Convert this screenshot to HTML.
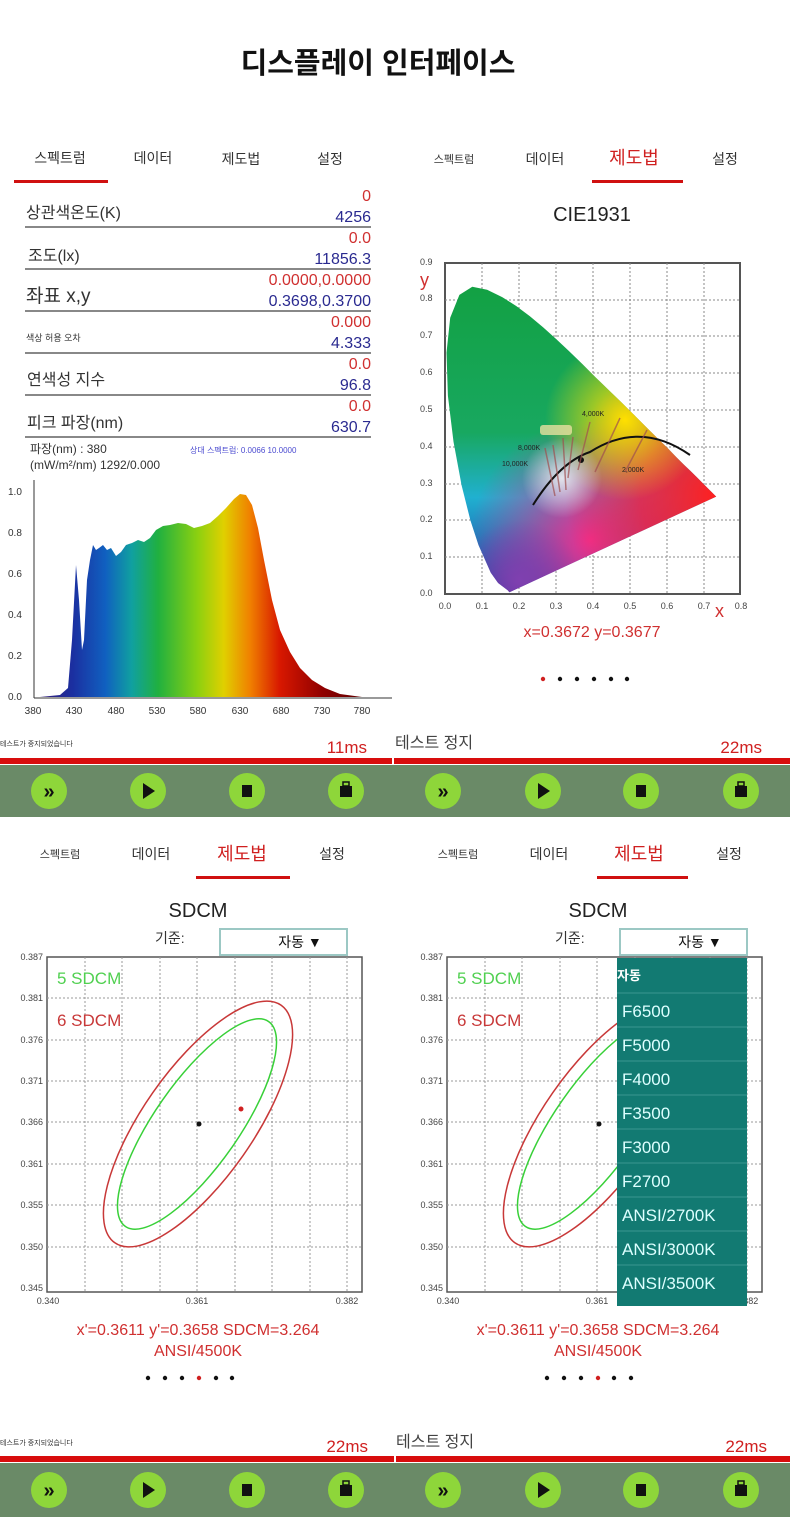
<!DOCTYPE html>
<html><head><meta charset="utf-8"><style>
html,body{margin:0;padding:0;background:#fff}
svg{display:block}
text{font-family:"Liberation Sans","Noto Sans CJK KR",sans-serif}
</style></head><body>
<svg width="790" height="1539" viewBox="0 0 790 1539" xmlns="http://www.w3.org/2000/svg">
<defs>
<linearGradient id="spec" x1="33" x2="362" y1="0" y2="0" gradientUnits="userSpaceOnUse">
<stop offset="0" stop-color="#3a1a70"/><stop offset="0.12" stop-color="#1b2fa0"/><stop offset="0.22" stop-color="#1060c0"/>
<stop offset="0.3" stop-color="#10a0a0"/><stop offset="0.38" stop-color="#20b040"/><stop offset="0.5" stop-color="#8cd010"/>
<stop offset="0.58" stop-color="#e0d000"/><stop offset="0.66" stop-color="#f08000"/><stop offset="0.75" stop-color="#d81800"/>
<stop offset="0.88" stop-color="#900000"/><stop offset="1" stop-color="#600000"/></linearGradient>
<linearGradient id="cv" x1="0" x2="0" y1="270" y2="595" gradientUnits="userSpaceOnUse">
<stop offset="0" stop-color="#12a040"/><stop offset="0.5" stop-color="#18a860"/><stop offset="0.7" stop-color="#20b0d0"/><stop offset="1" stop-color="#2030a0"/></linearGradient>
<radialGradient id="rr" cx="715" cy="495" r="150" gradientUnits="userSpaceOnUse"><stop offset="0" stop-color="#ff2020"/><stop offset="0.5" stop-color="#f02040" stop-opacity="0.8"/><stop offset="1" stop-color="#f02040" stop-opacity="0"/></radialGradient>
<radialGradient id="ry" cx="625" cy="420" r="80" gradientUnits="userSpaceOnUse"><stop offset="0" stop-color="#ffe000"/><stop offset="1" stop-color="#ffe000" stop-opacity="0"/></radialGradient>
<radialGradient id="rm" cx="590" cy="540" r="120" gradientUnits="userSpaceOnUse"><stop offset="0" stop-color="#f03090"/><stop offset="1" stop-color="#e03090" stop-opacity="0"/></radialGradient>
<radialGradient id="rw" cx="562" cy="478" r="40" gradientUnits="userSpaceOnUse"><stop offset="0" stop-color="#ffffff" stop-opacity="0.8"/><stop offset="1" stop-color="#ffffff" stop-opacity="0"/></radialGradient>
<radialGradient id="rv" cx="520" cy="580" r="60" gradientUnits="userSpaceOnUse"><stop offset="0" stop-color="#8040b0"/><stop offset="1" stop-color="#8040b0" stop-opacity="0"/></radialGradient>
</defs>

<text x="378" y="73" font-size="29" text-anchor="middle" fill="#111" font-weight="bold">디스플레이 인터페이스</text>

<g font-size="14" fill="#333" text-anchor="middle">
<text x="60" y="163">스펙트럼</text><text x="153" y="163">데이터</text><text x="241" y="164">제도법</text><text x="330" y="164">설정</text>
<text x="454" y="163" font-size="11">스펙트럼</text><text x="545" y="164">데이터</text><text x="634" y="164" font-size="18" fill="#d02020">제도법</text><text x="725" y="164">설정</text>
</g>
<rect x="14" y="180" width="94" height="3" fill="#d01010"/>
<rect x="592" y="180" width="91" height="3" fill="#d01010"/>

<g fill="#888">
<rect x="25" y="226" width="346" height="2"/><rect x="25" y="268" width="346" height="2"/><rect x="25" y="310" width="346" height="2"/>
<rect x="25" y="352" width="346" height="2"/><rect x="25" y="394" width="346" height="2"/><rect x="25" y="436" width="346" height="2"/>
</g>
<g font-size="16" fill="#333">
<text x="26" y="218">상관색온도(K)</text><text x="28" y="261">조도(lx)</text><text x="26" y="302" font-size="19">좌표 x,y</text>
<text x="26" y="341" font-size="9">색상 허용 오차</text><text x="27" y="385">연색성 지수</text><text x="27" y="428">피크 파장(nm)</text>
</g>
<g font-size="16" text-anchor="end">
<g fill="#d03030"><text x="371" y="201">0</text><text x="371" y="243">0.0</text><text x="371" y="285">0.0000,0.0000</text><text x="371" y="327">0.000</text><text x="371" y="369">0.0</text><text x="371" y="411">0.0</text></g>
<g fill="#2a2a90"><text x="371" y="222">4256</text><text x="371" y="264">11856.3</text><text x="371" y="306">0.3698,0.3700</text><text x="371" y="348">4.333</text><text x="371" y="390">96.8</text><text x="371" y="432">630.7</text></g>
</g>
<text x="30" y="453" font-size="12" fill="#333">파장(nm) : 380</text>
<text x="30" y="469" font-size="12" fill="#333">(mW/m²/nm) 1292/0.000</text>
<text x="190" y="453" font-size="8" fill="#4a4ad0">상대 스펙트럼: 0.0066 10.0000</text>

<line x1="34" y1="480" x2="34" y2="698" stroke="#333"/>
<line x1="34" y1="698" x2="392" y2="698" stroke="#333"/>
<g font-size="10" fill="#333">
<text x="8" y="495">1.0</text><text x="8" y="536">0.8</text><text x="8" y="577">0.6</text><text x="8" y="618">0.4</text><text x="8" y="659">0.2</text><text x="8" y="700">0.0</text>
</g>
<g font-size="10" fill="#333" text-anchor="middle">
<text x="33" y="714">380</text><text x="74" y="714">430</text><text x="116" y="714">480</text><text x="157" y="714">530</text><text x="198" y="714">580</text><text x="240" y="714">630</text><text x="281" y="714">680</text><text x="322" y="714">730</text><text x="362" y="714">780</text>
</g>
<path fill="url(#spec)" d="M 40 697 L 60 695 L 68 688 L 72 640 L 76 565 L 79 600 L 82 650 L 84 640 L 87 580 L 90 560 L 93 545 L 96 550 L 99 548 L 103 545 L 107 550 L 111 548 L 116 556 L 121 552 L 126 545 L 132 543 L 138 540 L 144 542 L 150 538 L 156 530 L 163 526 L 170 525 L 178 523 L 186 524 L 194 528 L 202 526 L 210 523 L 218 516 L 226 508 L 234 499 L 240 494 L 246 495 L 252 505 L 258 528 L 264 560 L 272 600 L 280 630 L 290 652 L 300 668 L 312 680 L 325 688 L 340 694 L 362 697 Z"/>

<text x="592" y="221" font-size="20" text-anchor="middle" fill="#222">CIE1931</text>
<rect x="445" y="263" width="295" height="331" fill="#fff" stroke="#555" stroke-width="2"/>
<g stroke="#888" stroke-dasharray="2,2" stroke-width="1">
<line x1="482" y1="263" x2="482" y2="594"/><line x1="519" y1="263" x2="519" y2="594"/><line x1="556" y1="263" x2="556" y2="594"/><line x1="593" y1="263" x2="593" y2="594"/><line x1="630" y1="263" x2="630" y2="594"/><line x1="667" y1="263" x2="667" y2="594"/><line x1="704" y1="263" x2="704" y2="594"/>
<line x1="445" y1="300" x2="740" y2="300"/><line x1="445" y1="336" x2="740" y2="336"/><line x1="445" y1="373" x2="740" y2="373"/><line x1="445" y1="410" x2="740" y2="410"/><line x1="445" y1="447" x2="740" y2="447"/><line x1="445" y1="484" x2="740" y2="484"/><line x1="445" y1="520" x2="740" y2="520"/><line x1="445" y1="557" x2="740" y2="557"/>
</g>
<clipPath id="hs2"><path d="M 509.4 592.2 L 507.7 590.3 L 498.1 583.0 L 490.8 572.7 L 478.5 545.1 L 470.4 520.4 L 461.6 485.4 L 453.5 441.8 L 447.9 395.8 L 446.5 352.8 L 450.2 317.8 L 459.4 294.9 L 472.3 286.8 L 487.1 289.8 L 502.2 297.1 L 516.2 306.0 L 529.9 316.3 L 543.2 327.4 L 556.4 339.2 L 569.3 351.4 L 582.6 364.3 L 595.5 377.2 L 608.8 390.1 L 621.7 402.6 L 633.9 414.8 L 646.1 427.0 L 657.2 438.0 L 667.5 448.0 L 676.4 457.2 L 684.1 464.9 L 690.8 471.2 L 696.0 476.4 L 700.0 480.4 L 703.3 483.7 L 716.2 496.6 Z"/></clipPath>
<g clip-path="url(#hs2)">
<rect x="440" y="260" width="300" height="340" fill="url(#cv)"/>
<rect x="440" y="260" width="300" height="340" fill="url(#rm)"/>
<rect x="440" y="260" width="300" height="340" fill="url(#rr)"/>
<rect x="440" y="260" width="300" height="340" fill="url(#ry)"/>
<rect x="440" y="260" width="300" height="340" fill="url(#rv)"/>
<rect x="440" y="260" width="300" height="340" fill="url(#rw)"/>
</g>
<path d="M 533 505 Q 560 462 590 452 Q 640 420 690 455" fill="none" stroke="#111" stroke-width="2"/>
<circle cx="581" cy="460" r="3" fill="#111"/>
<g stroke="#a05050" stroke-width="1.5" opacity="0.7">
<line x1="545" y1="448" x2="555" y2="496"/><line x1="553" y1="445" x2="560" y2="492"/><line x1="563" y1="438" x2="566" y2="490"/><line x1="573" y1="437" x2="568" y2="478"/><line x1="590" y1="422" x2="578" y2="470"/><line x1="620" y1="418" x2="595" y2="472"/><line x1="647" y1="430" x2="625" y2="472"/>
</g>
<rect x="540" y="425" width="32" height="10" rx="3" fill="#e8e0a0" opacity="0.8"/>
<g font-size="7" fill="#222"><text x="582" y="416">4,000K</text><text x="518" y="450">8,000K</text><text x="502" y="466">10,000K</text><text x="622" y="472">2,000K</text></g>
<g font-size="9" fill="#444"><text x="420" y="265">0.9</text><text x="420" y="301">0.8</text><text x="420" y="338">0.7</text><text x="420" y="375">0.6</text><text x="420" y="412">0.5</text><text x="420" y="449">0.4</text><text x="420" y="486">0.3</text><text x="420" y="522">0.2</text><text x="420" y="559">0.1</text><text x="420" y="596">0.0</text></g>
<g font-size="9" fill="#444" text-anchor="middle"><text x="445" y="609">0.0</text><text x="482" y="609">0.1</text><text x="519" y="609">0.2</text><text x="556" y="609">0.3</text><text x="593" y="609">0.4</text><text x="630" y="609">0.5</text><text x="667" y="609">0.6</text><text x="704" y="609">0.7</text><text x="741" y="609">0.8</text></g>
<text x="420" y="286" font-size="18" fill="#d03030">y</text>
<text x="715" y="617" font-size="18" fill="#d03030">x</text>
<text x="592" y="637" font-size="16" text-anchor="middle" fill="#d03030">x=0.3672  y=0.3677</text>
<g fill="#111"><circle cx="543" cy="679" r="2.2" fill="#d02020"/><circle cx="560" cy="679" r="2.2"/><circle cx="577" cy="679" r="2.2"/><circle cx="594" cy="679" r="2.2"/><circle cx="611" cy="679" r="2.2"/><circle cx="627" cy="679" r="2.2"/></g>

<text x="0" y="746" font-size="7" fill="#333">테스트가 중지되었습니다</text>
<text x="367" y="753" font-size="17" text-anchor="end" fill="#d02020">11ms</text>
<text x="395" y="748" font-size="16" fill="#444">테스트 정지</text>
<text x="762" y="753" font-size="17" text-anchor="end" fill="#d02020">22ms</text>
<rect x="0" y="758" width="790" height="6" fill="#d80d0d"/><rect x="392" y="758" width="2" height="6" fill="#fff"/>
<rect x="0" y="765" width="790" height="52" fill="#6a8a67"/>
<g id="btns1">
<g fill="#8ed63a"><ellipse cx="49" cy="791" rx="18" ry="18"/><ellipse cx="148" cy="791" rx="18" ry="18"/><ellipse cx="247" cy="791" rx="18" ry="18"/><ellipse cx="346" cy="791" rx="18" ry="18"/><ellipse cx="443" cy="791" rx="18" ry="18"/><ellipse cx="543" cy="791" rx="18" ry="18"/><ellipse cx="641" cy="791" rx="18" ry="18"/><ellipse cx="741" cy="791" rx="18" ry="18"/></g>
<g fill="#111"><text x="49" y="798" font-size="20" text-anchor="middle" font-weight="bold">»</text><path d="M143 783 L155 791 L143 799 Z"/><rect x="242" y="785" width="10" height="12"/><rect x="340" y="786" width="12" height="11"/><rect x="343" y="782" width="6" height="4" fill="none" stroke="#111" stroke-width="1.5"/>
<text x="443" y="798" font-size="20" text-anchor="middle" font-weight="bold">»</text><path d="M538 783 L550 791 L538 799 Z"/><rect x="636" y="785" width="10" height="12"/><rect x="735" y="786" width="12" height="11"/><rect x="738" y="782" width="6" height="4" fill="none" stroke="#111" stroke-width="1.5"/></g>
</g>

<g font-size="14" fill="#333" text-anchor="middle">
<text x="60" y="858" font-size="11">스펙트럼</text><text x="151" y="859">데이터</text><text x="242" y="860" font-size="18" fill="#d02020">제도법</text><text x="332" y="859">설정</text>
<text x="458" y="858" font-size="11">스펙트럼</text><text x="549" y="859">데이터</text><text x="639" y="860" font-size="18" fill="#d02020">제도법</text><text x="729" y="859">설정</text>
</g>
<rect x="196" y="876" width="94" height="3" fill="#d01010"/>
<rect x="597" y="876" width="91" height="3" fill="#d01010"/>

<g id="sd">
<text x="198" y="917" font-size="20" text-anchor="middle" fill="#222">SDCM</text>
<text x="155" y="943" font-size="14" fill="#333">기준:</text>
<rect x="220" y="929" width="127" height="26" fill="#fff" stroke="#9cc8c4" stroke-width="2"/>
<text x="300" y="947" font-size="14" text-anchor="middle" fill="#111">자동 ▼</text>
<rect x="47" y="957" width="315" height="335" fill="#fff" stroke="#555" stroke-width="1.5"/>
<g stroke="#999" stroke-dasharray="2,2">
<line x1="85" y1="957" x2="85" y2="1292"/><line x1="122" y1="957" x2="122" y2="1292"/><line x1="160" y1="957" x2="160" y2="1292"/><line x1="197" y1="957" x2="197" y2="1292"/><line x1="235" y1="957" x2="235" y2="1292"/><line x1="272" y1="957" x2="272" y2="1292"/><line x1="310" y1="957" x2="310" y2="1292"/><line x1="347" y1="957" x2="347" y2="1292"/>
<line x1="47" y1="998" x2="362" y2="998"/><line x1="47" y1="1040" x2="362" y2="1040"/><line x1="47" y1="1081" x2="362" y2="1081"/><line x1="47" y1="1122" x2="362" y2="1122"/><line x1="47" y1="1164" x2="362" y2="1164"/><line x1="47" y1="1205" x2="362" y2="1205"/><line x1="47" y1="1247" x2="362" y2="1247"/>
</g>
<g font-size="9" fill="#444" text-anchor="end"><text x="43" y="960">0.387</text><text x="43" y="1001">0.381</text><text x="43" y="1043">0.376</text><text x="43" y="1084">0.371</text><text x="43" y="1125">0.366</text><text x="43" y="1167">0.361</text><text x="43" y="1208">0.355</text><text x="43" y="1250">0.350</text><text x="43" y="1291">0.345</text></g>
<g font-size="9" fill="#444" text-anchor="middle"><text x="48" y="1304">0.340</text><text x="197" y="1304">0.361</text><text x="347" y="1304">0.382</text></g>
<ellipse cx="198" cy="1124" rx="145" ry="55" transform="rotate(-55 198 1124)" fill="none" stroke="#c83838" stroke-width="1.5"/>
<ellipse cx="197" cy="1124" rx="125" ry="42" transform="rotate(-55 197 1124)" fill="none" stroke="#38d038" stroke-width="1.5"/>
<circle cx="199" cy="1124" r="2.5" fill="#111"/>
<text x="57" y="984" font-size="17" fill="#50d050">5 SDCM</text>
<text x="57" y="1026" font-size="17" fill="#c83838">6 SDCM</text>
<text x="198" y="1335" font-size="16" text-anchor="middle" fill="#d03030">x'=0.3611 y'=0.3658  SDCM=3.264</text>
<text x="198" y="1356" font-size="16" text-anchor="middle" fill="#d03030">ANSI/4500K</text>
</g>
<circle cx="241" cy="1109" r="2.5" fill="#d02020"/>
<g fill="#111"><circle cx="148" cy="1378" r="2.2"/><circle cx="165" cy="1378" r="2.2"/><circle cx="182" cy="1378" r="2.2"/><circle cx="199" cy="1378" r="2.2" fill="#d02020"/><circle cx="216" cy="1378" r="2.2"/><circle cx="232" cy="1378" r="2.2"/></g>
<use href="#sd" x="400"/>
<g fill="#111"><circle cx="547" cy="1378" r="2.2"/><circle cx="564" cy="1378" r="2.2"/><circle cx="581" cy="1378" r="2.2"/><circle cx="598" cy="1378" r="2.2" fill="#d02020"/><circle cx="614" cy="1378" r="2.2"/><circle cx="631" cy="1378" r="2.2"/></g>
<rect x="617" y="958" width="130" height="348" fill="#127a72"/>
<g stroke="#3a9690" stroke-width="1"><line x1="617" y1="993" x2="747" y2="993"/><line x1="617" y1="1027" x2="747" y2="1027"/><line x1="617" y1="1061" x2="747" y2="1061"/><line x1="617" y1="1095" x2="747" y2="1095"/><line x1="617" y1="1129" x2="747" y2="1129"/><line x1="617" y1="1163" x2="747" y2="1163"/><line x1="617" y1="1197" x2="747" y2="1197"/><line x1="617" y1="1231" x2="747" y2="1231"/><line x1="617" y1="1265" x2="747" y2="1265"/></g>
<text x="617" y="980" font-size="13" font-weight="bold" fill="#fff">자동</text>
<g font-size="17" fill="#dff">
<text x="622" y="1017">F6500</text><text x="622" y="1051">F5000</text><text x="622" y="1085">F4000</text><text x="622" y="1119">F3500</text><text x="622" y="1153">F3000</text><text x="622" y="1187">F2700</text><text x="622" y="1221">ANSI/2700K</text><text x="622" y="1255">ANSI/3000K</text><text x="622" y="1289">ANSI/3500K</text>
</g>

<text x="0" y="1445" font-size="7" fill="#333">테스트가 중지되었습니다</text>
<text x="368" y="1452" font-size="17" text-anchor="end" fill="#d02020">22ms</text>
<text x="396" y="1447" font-size="16" fill="#444">테스트 정지</text>
<text x="767" y="1452" font-size="17" text-anchor="end" fill="#d02020">22ms</text>
<rect x="0" y="1456" width="790" height="6" fill="#d80d0d"/><rect x="394" y="1456" width="2" height="6" fill="#fff"/>
<rect x="0" y="1463" width="790" height="54" fill="#6a8a67"/>
<use href="#btns1" y="699"/>
</svg>
</body></html>
